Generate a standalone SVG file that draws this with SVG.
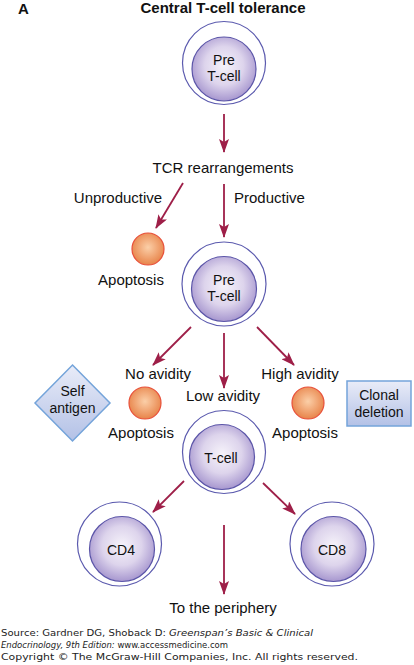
<svg xmlns="http://www.w3.org/2000/svg" width="414" height="665" viewBox="0 0 414 665">
<defs>
<radialGradient id="cellG" cx="50%" cy="45%" r="55%">
<stop offset="0" stop-color="#f6f3fa"/>
<stop offset="0.55" stop-color="#ddd4ec"/>
<stop offset="1" stop-color="#a797cf"/>
</radialGradient>
<radialGradient id="apoG" cx="50%" cy="45%" r="55%">
<stop offset="0" stop-color="#fbcfa8"/>
<stop offset="1" stop-color="#e8844a"/>
</radialGradient>
<linearGradient id="boxG" x1="0" y1="0" x2="0" y2="1">
<stop offset="0" stop-color="#e9ecf8"/>
<stop offset="1" stop-color="#b3c1e6"/>
</linearGradient>
<marker id="ah" viewBox="0 0 14 10" refX="13" refY="5" markerWidth="14" markerHeight="10" markerUnits="userSpaceOnUse" orient="auto">
<path d="M0,0 L14,5 L0,10 L3,5 z" fill="#9e1f48"/>
</marker>
</defs>
<style>
text{font-family:"Liberation Sans",Arial,sans-serif;fill:#111}
.lbl{font-size:15px;text-anchor:middle}
.bx{font-size:14px;text-anchor:middle}
.cl{font-size:14px;text-anchor:middle}
.outer{fill:#fff;stroke:#5b5aae;stroke-width:1.2}
.inner{fill:url(#cellG);stroke:#5b55a8;stroke-width:1.2}
.apo{fill:url(#apoG);stroke:#e8503a;stroke-width:1.2}
.arr{stroke:#9e1f48;stroke-width:1.8;fill:none;marker-end:url(#ah)}
.ft{font-family:"DejaVu Sans",Verdana,sans-serif;font-size:9px;fill:#222}
.box{fill:url(#boxG);stroke:#74a4da;stroke-width:1.5}
</style>
<rect width="414" height="665" fill="#fff"/>
<text x="18" y="14" style="font-size:15px;font-weight:bold">A</text>
<text x="223" y="13" class="lbl" style="font-weight:bold">Central T-cell tolerance</text>

<g id="connectors">
<line class="arr" x1="224" y1="114" x2="224" y2="152"/>
<line class="arr" x1="183" y1="183" x2="156" y2="228"/>
<line class="arr" x1="224" y1="184" x2="224" y2="237"/>
<line class="arr" x1="191" y1="327" x2="153" y2="365"/>
<line class="arr" x1="224" y1="333" x2="224" y2="388"/>
<line class="arr" x1="257" y1="327" x2="294" y2="365"/>
<line class="arr" x1="184" y1="481" x2="153" y2="512"/>
<line class="arr" x1="263" y1="483" x2="295" y2="514"/>
<line class="arr" x1="224" y1="525" x2="224" y2="594"/>
</g>

<g id="pre1">
<circle class="outer" cx="224" cy="63" r="41.5"/>
<circle class="inner" cx="224" cy="69" r="32"/>
<text x="224" y="65" class="cl">Pre</text>
<text x="224" y="81" class="cl">T-cell</text>
</g>
<g id="tcr"><text x="223" y="173" class="lbl">TCR rearrangements</text></g>
<g id="unprod"><text x="118" y="203" class="lbl">Unproductive</text></g>
<g id="prod"><text x="234" y="203" style="font-size:15px">Productive</text></g>
<g id="apo1">
<circle class="apo" cx="148" cy="249" r="16"/>
<text x="131" y="285" class="lbl">Apoptosis</text>
</g>
<g id="pre2">
<circle class="outer" cx="224" cy="284" r="42"/>
<circle class="inner" cx="224" cy="289" r="32.5"/>
<text x="224" y="285" class="cl">Pre</text>
<text x="224" y="301" class="cl">T-cell</text>
</g>
<g id="noav"><text x="158" y="379" class="lbl">No avidity</text></g>
<g id="lowav"><text x="223" y="401" class="lbl">Low avidity</text></g>
<g id="highav"><text x="300" y="379" class="lbl">High avidity</text></g>
<g id="apo2">
<circle class="apo" cx="145" cy="403" r="16"/>
<text x="141" y="438" class="lbl">Apoptosis</text>
</g>
<g id="apo3">
<circle class="apo" cx="308" cy="403" r="16"/>
<text x="305" y="438" class="lbl">Apoptosis</text>
</g>
<g id="self">
<polygon class="box" points="72.5,365 110,403 72.5,441 35,403"/>
<text x="72.5" y="396" class="bx">Self</text>
<text x="72.5" y="413" class="bx">antigen</text>
</g>
<g id="clonal">
<rect class="box" x="347" y="381" width="64" height="45"/>
<text x="379" y="400" class="bx">Clonal</text>
<text x="379" y="417" class="bx">deletion</text>
</g>
<g id="tcell">
<circle class="outer" cx="224" cy="452" r="41.5"/>
<circle class="inner" cx="222" cy="457" r="32.5"/>
<text x="221" y="463" class="cl">T-cell</text>
</g>
<g id="cd4">
<circle class="outer" cx="119.5" cy="544" r="42"/>
<circle class="inner" cx="122" cy="549" r="32.5"/>
<text x="121" y="555" class="cl">CD4</text>
</g>
<g id="cd8">
<circle class="outer" cx="332" cy="544" r="42"/>
<circle class="inner" cx="333.5" cy="549" r="32.5"/>
<text x="332" y="555" class="cl">CD8</text>
</g>
<g id="periph"><text x="223" y="613" class="lbl">To the periphery</text></g>

<g id="footer">
<text class="ft" x="1" y="636" textLength="312" lengthAdjust="spacingAndGlyphs">Source: Gardner DG, Shoback D: <tspan font-style="italic">Greenspan’s Basic &amp; Clinical</tspan></text>
<text class="ft" x="1" y="648" textLength="227" lengthAdjust="spacingAndGlyphs"><tspan font-style="italic">Endocrinology, 9th Edition:</tspan> www.accessmedicine.com</text>
<text class="ft" x="1" y="660" textLength="357" lengthAdjust="spacingAndGlyphs">Copyright © The McGraw-Hill Companies, Inc. All rights reserved.</text>
</g>
</svg>
